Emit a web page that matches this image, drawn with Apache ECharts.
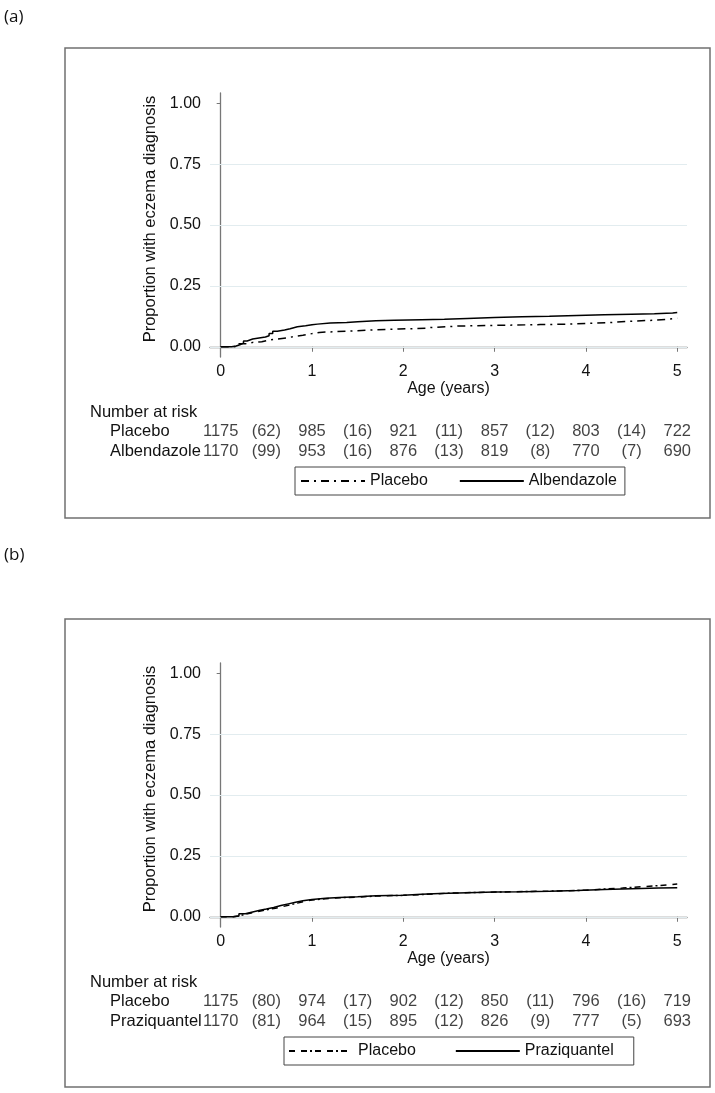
<!DOCTYPE html>
<html>
<head>
<meta charset="utf-8">
<script src="https://cdn.jsdelivr.net/npm/echarts@6/dist/echarts.min.js"></script>
<style>
  html, body { margin: 0; padding: 0; background: #fff; }
  #chart { width: 715px; height: 1093px; }
</style>
</head>
<body>
<div id="chart"></div>
<script>
// ---------- DATA ----------
const xTicks = [0, 1, 2, 3, 4, 5];
const yTicks = [0, 0.25, 0.5, 0.75, 1];
const gridYs = [0, 0.25, 0.5, 0.75];
const riskTimes = [0, 1, 2, 3, 4, 5];
const eventTimes = [0.5, 1.5, 2.5, 3.5, 4.5];

// Panel (a) curves [age, proportion]
const placeboA = [[0,0],[0.14,0.003],[0.2,0.012],[0.27,0.018],[0.35,0.021],[0.45,0.027],[0.52,0.032],[0.62,0.036],[0.72,0.042],[0.8,0.047],[0.9,0.054],[1.0,0.059],[1.08,0.062],[1.25,0.065],[1.45,0.069],[1.65,0.073],[1.95,0.076],[2.25,0.079],[2.3,0.085],[2.6,0.087],[2.9,0.089],[3.2,0.091],[3.5,0.093],[3.8,0.096],[4.0,0.099],[4.25,0.105],[4.5,0.109],[4.75,0.113],[4.9,0.117],[5.0,0.117]];
const albendazole = [[0,0],[0.12,0.003],[0.17,0.008],[0.21,0.015],[0.25,0.024],[0.29,0.032],[0.35,0.036],[0.42,0.04],[0.49,0.045],[0.53,0.055],[0.57,0.064],[0.62,0.069],[0.7,0.074],[0.76,0.082],[0.84,0.086],[0.93,0.09],[1.0,0.093],[1.06,0.098],[1.2,0.1],[1.38,0.103],[1.5,0.107],[1.7,0.109],[1.9,0.111],[2.2,0.113],[2.45,0.116],[2.7,0.12],[3.0,0.123],[3.3,0.125],[3.6,0.128],[3.9,0.131],[4.2,0.134],[4.5,0.136],[4.75,0.139],[4.95,0.141],[5.0,0.141]];

// Panel (b) curves
const placeboB = [[0,0],[0.14,0.003],[0.2,0.011],[0.28,0.018],[0.36,0.025],[0.45,0.03],[0.52,0.035],[0.6,0.042],[0.68,0.049],[0.76,0.056],[0.84,0.063],[0.92,0.069],[1.0,0.074],[1.15,0.078],[1.3,0.081],[1.5,0.085],[1.7,0.088],[2.0,0.091],[2.2,0.094],[2.35,0.097],[2.5,0.1],[2.8,0.102],[3.1,0.104],[3.4,0.106],[3.7,0.109],[4.0,0.114],[4.2,0.118],[4.4,0.123],[4.6,0.128],[4.8,0.131],[4.9,0.135],[5.0,0.135]];
const praziquantel = [[0,0],[0.13,0.003],[0.2,0.012],[0.27,0.02],[0.35,0.027],[0.43,0.032],[0.5,0.038],[0.58,0.046],[0.66,0.053],[0.74,0.06],[0.82,0.066],[0.9,0.071],[1.0,0.076],[1.15,0.079],[1.3,0.082],[1.5,0.086],[1.7,0.088],[2.0,0.092],[2.2,0.096],[2.4,0.099],[2.7,0.102],[3.0,0.103],[3.3,0.105],[3.6,0.108],[3.9,0.112],[4.2,0.115],[4.5,0.118],[4.8,0.119],[5.0,0.119]];

// Number at risk and (events) between
const placeboA_risk = [1175, 985, 921, 857, 803, 722];
const placeboA_events = [62, 16, 11, 12, 14];
const albendazole_risk = [1170, 953, 876, 819, 770, 690];
const albendazole_events = [99, 16, 13, 8, 7];
const placeboB_risk = [1175, 974, 902, 850, 796, 719];
const placeboB_events = [80, 17, 12, 11, 16];
const praziquantel_risk = [1170, 964, 895, 826, 777, 693];
const praziquantel_events = [81, 15, 12, 9, 5];

const rowsA = ['Placebo', 'Albendazole'];
const rowsB = ['Placebo', 'Praziquantel'];

// ---------- LAYOUT ----------
const FONT = "'Liberation Sans', Arial, sans-serif";
const TXT = '#111';
const AXC = '#777';
const X_MIN = -0.117, X_MAX = 5.107;
const Y_MIN = -0.042, Y_MAX = 1.042;
const OFF = 570;
const plotTop = 93, plotH = 264;
const riskTop = 421, riskH = 40;

function riskRows(riskArrs, eventArrs) {
  const out = [];
  riskArrs.forEach((arr, r) => {
    arr.forEach((v, i) => out.push([riskTimes[i], r, String(v)]));
    eventArrs[r].forEach((v, i) => out.push([eventTimes[i], r, '(' + v + ')']));
  });
  return out;
}

function plotXAxis(gi) {
  return {
    gridIndex: gi, type: 'value', min: X_MIN, max: X_MAX,
    name: 'Age (years)', nameLocation: 'middle', nameGap: 22,
    nameTextStyle: { fontFamily: FONT, fontSize: 16, color: TXT },
    axisLine: { show: true, lineStyle: { color: AXC, width: 1.3 } },
    axisTick: { show: true, length: 5, lineStyle: { color: AXC, width: 1 }, customValues: xTicks },
    axisLabel: { show: true, customValues: xTicks, margin: 7, fontFamily: FONT, fontSize: 16, color: TXT,
      formatter: v => String(Math.round(v)) },
    splitLine: { show: false }
  };
}
function plotYAxis(gi) {
  return {
    gridIndex: gi, type: 'value', min: Y_MIN, max: Y_MAX,
    name: 'Proportion with eczema diagnosis', nameLocation: 'middle', nameGap: 45,
    nameTextStyle: { fontFamily: FONT, fontSize: 16.5, color: TXT, padding: [0, 0, 0, 12] },
    axisLine: { show: true, lineStyle: { color: AXC, width: 1.3 } },
    axisTick: { show: true, length: 4, lineStyle: { color: AXC, width: 1 }, customValues: yTicks },
    axisLabel: { show: true, customValues: yTicks, margin: 9, fontFamily: FONT, fontSize: 16, color: TXT,
      formatter: v => v.toFixed(2) },
    splitLine: { show: false }
  };
}
function riskXAxis(gi) {
  return { gridIndex: gi, type: 'value', min: X_MIN, max: X_MAX, show: false };
}
function riskYAxis(gi, rows) {
  return {
    gridIndex: gi, type: 'category', data: rows, inverse: true,
    axisLine: { show: false }, axisTick: { show: false }, splitLine: { show: false },
    axisLabel: { show: true, interval: 0, hideOverlap: false, align: 'left', margin: 100,
      fontFamily: FONT, fontSize: 16.5, color: TXT }
  };
}
function curve(name, data, xi, dash) {
  return {
    name: name, type: 'line', xAxisIndex: xi, yAxisIndex: xi, data: data,
    step: 'end', symbol: 'none', z: 5, silent: true,
    itemStyle: { color: 'rgba(0,0,0,0)', borderWidth: 0 },
    lineStyle: { color: '#000', width: 1.5, type: dash }
  };
}
function gridSeries(xi) {
  return {
    type: 'line', xAxisIndex: xi, yAxisIndex: xi, data: [], z: 1, silent: true,
    markLine: { silent: true, z: 1, symbol: ['none', 'none'], label: { show: false },
      lineStyle: { color: '#e2ecef', width: 1.2, type: 'solid' },
      data: gridYs.map(v => ({ yAxis: v })) }
  };
}
function riskSeries(xi, data) {
  return {
    type: 'scatter', xAxisIndex: xi, yAxisIndex: xi, data: data, symbolSize: 1, silent: true,
    itemStyle: { color: 'rgba(0,0,0,0)' },
    label: { show: true, position: 'inside', formatter: p => p.data[2],
      fontFamily: FONT, fontSize: 16.5, color: TXT }
  };
}
function legend(top, left, names, padding, gap) {
  return {
    top: top, left: left, orient: 'horizontal', data: names, selectedMode: false,
    formatter: n => n.split('|')[0],
    borderColor: '#444', borderWidth: 1, borderRadius: 0, padding: padding,
    itemWidth: 64, itemHeight: 14, itemGap: gap,
    itemStyle: { color: 'rgba(0,0,0,0)', borderWidth: 0, opacity: 0 },
    lineStyle: { color: '#000' },
    textStyle: { fontFamily: FONT, fontSize: 16, color: TXT }
  };
}

const option = {
  animation: false,
  backgroundColor: '#fff',
  grid: [
    { left: 210, right: 28, top: plotTop, height: plotH },
    { left: 210, right: 28, top: plotTop + OFF, height: plotH },
    { left: 210, right: 28, top: riskTop, height: riskH },
    { left: 210, right: 28, top: riskTop + OFF, height: riskH }
  ],
  xAxis: [plotXAxis(0), plotXAxis(1), riskXAxis(2), riskXAxis(3)],
  yAxis: [plotYAxis(0), plotYAxis(1), riskYAxis(2, rowsA), riskYAxis(3, rowsB)],
  legend: [
    legend(467, 295, ['Placebo|a', 'Albendazole'], [6, 8, 6, 5], 31),
    legend(467 + OFF, 284, ['Placebo|b', 'Praziquantel'], [6, 20, 6, 4], 39)
  ],
  series: [
    gridSeries(0), gridSeries(1),
    curve('Placebo|a', placeboA, 0, [8, 5, 2, 5]),
    curve('Albendazole', albendazole, 0, 'solid'),
    curve('Placebo|b', placeboB, 1, [6, 6, 6, 3, 2, 3]),
    curve('Praziquantel', praziquantel, 1, 'solid'),
    riskSeries(2, riskRows([placeboA_risk, albendazole_risk], [placeboA_events, albendazole_events])),
    riskSeries(3, riskRows([placeboB_risk, praziquantel_risk], [placeboB_events, praziquantel_events]))
  ],
  graphic: [
    { type: 'rect', shape: { x: 65, y: 48, width: 645, height: 470 }, style: { fill: 'none', stroke: '#707070', lineWidth: 1.5 }, silent: true },
    { type: 'rect', shape: { x: 65, y: 619, width: 645, height: 468 }, style: { fill: 'none', stroke: '#707070', lineWidth: 1.5 }, silent: true },
    { type: 'text', x: 4, y: 17, style: { text: '(a)', font: "17px 'Open Sans', sans-serif", fill: '#111', textVerticalAlign: 'middle' }, silent: true },
    { type: 'text', x: 4, y: 555, style: { text: '(b)', font: "17px 'Open Sans', sans-serif", fill: '#111', textVerticalAlign: 'middle' }, silent: true },
    { type: 'text', x: 90, y: 412, style: { text: 'Number at risk', font: "16.5px 'Liberation Sans', Arial, sans-serif", fill: TXT, textVerticalAlign: 'middle' }, silent: true },
    { type: 'text', x: 90, y: 412 + OFF, style: { text: 'Number at risk', font: "16.5px 'Liberation Sans', Arial, sans-serif", fill: TXT, textVerticalAlign: 'middle' }, silent: true }
  ]
};

const chart = echarts.init(document.getElementById('chart'), null, { renderer: 'canvas' });
chart.setOption(option);
</script>
</body>
</html>
